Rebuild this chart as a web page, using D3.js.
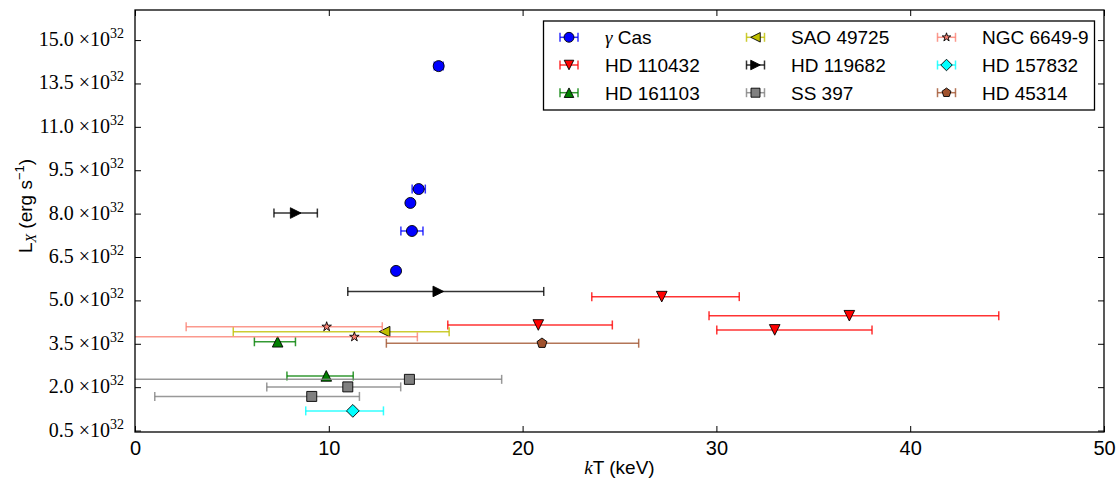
<!DOCTYPE html>
<html>
<head>
<meta charset="utf-8">
<script src="https://cdn.jsdelivr.net/npm/d3@7"></script>
<style>
  html, body { margin: 0; padding: 0; background: #fff; }
  svg { display: block; }
</style>
</head>
<body>
<svg id="chart" width="1117" height="481"></svg>
<script>
// ---------- data ----------
const xTicks = [0, 10, 20, 30, 40, 50];
const yTickValues = [0.5, 2.0, 3.5, 5.0, 6.5, 8.0, 9.5, 11.0, 12.5, 14.0];
const yTickLabels = ["0.5", "2.0", "3.5", "5.0", "6.5", "8.0", "9.5", "11.0", "13.5", "15.0"];

const seriesNames = ["γ Cas", "HD 110432", "HD 161103", "SAO 49725", "HD 119682", "SS 397", "NGC 6649-9", "HD 157832", "HD 45314"];

const gammaCasKT = [15.67, 14.64, 14.21, 14.29, 13.47];
const gammaCasL = [13.10, 8.85, 8.37, 7.40, 6.02];
const gammaCasErrLo = [0.23, 0.34, 0.12, 0.57, 0.12];
const gammaCasErrHi = [0.23, 0.34, 0.12, 0.57, 0.12];

const hd110432KT = [27.18, 36.86, 33.01, 20.81];
const hd110432L = [5.13, 4.47, 3.98, 4.15];
const hd110432ErrLo = [3.61, 7.24, 2.99, 4.67];
const hd110432ErrHi = [4.00, 7.71, 5.02, 3.82];

const hd161103KT = [7.36, 9.87];
const hd161103L = [3.57, 2.39];
const hd161103ErrLo = [1.20, 2.03];
const hd161103ErrHi = [0.92, 1.39];

const sao49725KT = [12.88];
const sao49725L = [3.92];
const sao49725ErrLo = [7.81];
const sao49725ErrHi = [3.33];

const hd119682KT = [8.29, 15.65];
const hd119682L = [8.02, 5.31];
const hd119682ErrLo = [1.12, 4.67];
const hd119682ErrHi = [1.12, 5.44];

const ss397KT = [14.16, 10.98, 9.12];
const ss397L = [2.27, 2.01, 1.68];
const ss397ErrLo = [14.5, 4.18, 8.10];
const ss397ErrHi = [4.76, 2.73, 2.46];

const ngc6649KT = [9.89, 11.32];
const ngc6649L = [4.09, 3.74];
const ngc6649ErrLo = [7.25, 12.5];
const ngc6649ErrHi = [2.87, 3.25];

const hd157832KT = [11.24];
const hd157832L = [1.18];
const hd157832ErrLo = [2.43];
const hd157832ErrHi = [1.58];

const hd45314KT = [21.00];
const hd45314L = [3.52];
const hd45314ErrLo = [8.03];
const hd45314ErrHi = [4.99];

// ---------- styling ----------
const seriesColors = ["#0000ff", "#ff0000", "#008000", "#bfbf00", "#000000", "#808080", "#fa8072", "#00ffff", "#a0522d"];
const seriesMarkers = ["circle", "triDown", "triUp", "triLeft", "triRight", "square", "star", "diamond", "pentagon"];

const series = [
  [gammaCasKT, gammaCasL, gammaCasErrLo, gammaCasErrHi],
  [hd110432KT, hd110432L, hd110432ErrLo, hd110432ErrHi],
  [hd161103KT, hd161103L, hd161103ErrLo, hd161103ErrHi],
  [sao49725KT, sao49725L, sao49725ErrLo, sao49725ErrHi],
  [hd119682KT, hd119682L, hd119682ErrLo, hd119682ErrHi],
  [ss397KT, ss397L, ss397ErrLo, ss397ErrHi],
  [ngc6649KT, ngc6649L, ngc6649ErrLo, ngc6649ErrHi],
  [hd157832KT, hd157832L, hd157832ErrLo, hd157832ErrHi],
  [hd45314KT, hd45314L, hd45314ErrLo, hd45314ErrHi]
].map((s, i) => ({
  name: seriesNames[i], color: seriesColors[i], marker: seriesMarkers[i],
  points: s[0].map((v, j) => ({ kT: v, L: s[1][j], lo: s[2][j], hi: s[3][j] }))
}));

// ---------- layout ----------
const plotLeft = 135, plotRight = 1104, plotTop = 10, plotBottom = 432;
const svg = d3.select("#chart");
const x = d3.scaleLinear().domain([0, 50]).range([plotLeft, plotRight]);
const y = d3.scaleLinear().domain([0.45, 15.04]).range([plotBottom, plotTop]);

const sans = "'Liberation Sans', Arial, sans-serif";
const serif = "'Liberation Serif', 'Times New Roman', serif";

svg.append("defs").append("clipPath").attr("id", "plotclip")
  .append("rect").attr("x", plotLeft).attr("y", plotTop).attr("width", plotRight - plotLeft).attr("height", plotBottom - plotTop);

// marker path generator
function markerPath(type, s) {
  const k = s || 1;
  const h = 5.3 * k;
  switch (type) {
    case "circle": return d3.symbol(d3.symbolCircle, Math.PI * Math.pow(5.5 * k, 2))();
    case "square": { const a = 5 * k; return `M${-a},${-a}L${a},${-a}L${a},${a}L${-a},${a}Z`; }
    case "diamond": { const a = 6.4 * k; return `M0,${-a}L${a},0L0,${a}L${-a},0Z`; }
    case "triUp": return `M0,${-h}L${h},${h}L${-h},${h}Z`;
    case "triDown": return `M0,${h}L${h},${-h}L${-h},${-h}Z`;
    case "triLeft": return `M${-h},0L${h},${-h}L${h},${h}Z`;
    case "triRight": return `M${h},0L${-h},${-h}L${-h},${h}Z`;
    case "star": {
      const R = 5 * k, r = R * 0.382; let p = "";
      for (let i = 0; i < 10; i++) {
        const rad = i % 2 === 0 ? R : r;
        const ang = -Math.PI / 2 + i * Math.PI / 5;
        p += (i === 0 ? "M" : "L") + (rad * Math.cos(ang)).toFixed(2) + "," + (rad * Math.sin(ang)).toFixed(2);
      }
      return p + "Z";
    }
    case "pentagon": {
      const R = 5.2 * k; let p = "";
      for (let i = 0; i < 5; i++) {
        const ang = -Math.PI / 2 + i * 2 * Math.PI / 5;
        p += (i === 0 ? "M" : "L") + (R * Math.cos(ang)).toFixed(2) + "," + (R * Math.sin(ang)).toFixed(2);
      }
      return p + "Z";
    }
  }
}

// ---------- data layer ----------
const plot = svg.append("g").attr("clip-path", "url(#plotclip)");
const capH = 4.5;
series.forEach(s => {
  const g = plot.append("g");
  s.points.forEach(p => {
    const yy = y(p.L), x0 = x(p.kT - p.lo), x1 = x(p.kT + p.hi);
    const eb = g.append("g").attr("stroke", s.color).attr("stroke-width", 1.5).attr("stroke-opacity", 0.8).attr("fill", "none");
    eb.append("line").attr("x1", x0).attr("x2", x1).attr("y1", yy).attr("y2", yy);
    eb.append("line").attr("x1", x0).attr("x2", x0).attr("y1", yy - capH).attr("y2", yy + capH);
    eb.append("line").attr("x1", x1).attr("x2", x1).attr("y1", yy - capH).attr("y2", yy + capH);
  });
  g.selectAll("path.mk").data(s.points).join("path").attr("class", "mk")
    .attr("d", markerPath(s.marker))
    .attr("transform", d => `translate(${x(d.kT)},${y(d.L)})`)
    .attr("fill", s.color).attr("stroke", "#000").attr("stroke-width", 0.9);
});

// ---------- axes ----------
const axB = svg.append("g").attr("transform", `translate(0,${plotBottom})`)
  .call(d3.axisBottom(x).tickValues(xTicks).tickSizeInner(-6).tickSizeOuter(0).tickPadding(9).tickFormat(d3.format("d")));
const axT = svg.append("g").attr("transform", `translate(0,${plotTop})`)
  .call(d3.axisTop(x).tickValues(xTicks).tickSizeInner(-6).tickSizeOuter(0).tickFormat(""));
const axL = svg.append("g").attr("transform", `translate(${plotLeft},0)`)
  .call(d3.axisLeft(y).tickValues(yTickValues).tickSizeInner(-6).tickSizeOuter(0).tickFormat(""));
const axR = svg.append("g").attr("transform", `translate(${plotRight},0)`)
  .call(d3.axisRight(y).tickValues(yTickValues).tickSizeInner(-6).tickSizeOuter(0).tickFormat(""));
[axB, axT, axL, axR].forEach(a => {
  a.select(".domain").remove();
  a.selectAll(".tick line").attr("stroke", "#000").attr("stroke-width", 1);
});
axB.selectAll(".tick text").attr("font-family", sans).attr("font-size", 20).attr("fill", "#000");

// y tick labels with ×10^32
axL.selectAll(".tick").each(function (d) {
  const t = d3.select(this).append("text")
    .attr("x", -11).attr("y", 5.5).attr("text-anchor", "end")
    .attr("font-family", serif).attr("font-size", 20).attr("fill", "#000");
  t.append("tspan").text(yTickLabels[yTickValues.indexOf(d)] + " ×10");
  t.append("tspan").attr("font-size", 14).attr("dy", -8).text("32");
});

// frame
svg.append("rect").attr("x", plotLeft).attr("y", plotTop).attr("width", plotRight - plotLeft).attr("height", plotBottom - plotTop)
  .attr("fill", "none").attr("stroke", "#000").attr("stroke-width", 1.3);

// axis titles
const xl = svg.append("text").attr("x", (plotLeft + plotRight) / 2).attr("y", 474).attr("text-anchor", "middle")
  .attr("font-family", sans).attr("font-size", 19).attr("fill", "#000");
xl.append("tspan").attr("font-family", serif).attr("font-style", "italic").text("k");
xl.append("tspan").text("T (keV)");

const yl = svg.append("text").attr("transform", "translate(31.5,206) rotate(-90)").attr("text-anchor", "middle")
  .attr("font-family", sans).attr("font-size", 19).attr("fill", "#000");
yl.append("tspan").text("L");
yl.append("tspan").attr("font-family", serif).attr("font-style", "italic").attr("font-size", 14).attr("dy", 4).text("X");
yl.append("tspan").attr("dy", -4).text(" (erg s");
yl.append("tspan").attr("font-size", 13).attr("dy", -8).text("−1");
yl.append("tspan").attr("dy", 8).text(")");

// ---------- legend ----------
const leg = svg.append("g");
leg.append("rect").attr("x", 543.5).attr("y", 21).attr("width", 551).attr("height", 89)
  .attr("fill", "#fff").attr("stroke", "#000").attr("stroke-width", 1.3);
const colMarkerX = [569, 755.5, 946.5];
const colTextX = [605, 791, 982];
const rowY = [37.3, 65, 92.7];
series.forEach((s, i) => {
  const c = Math.floor(i / 3), r = i % 3;
  const mx = colMarkerX[c], my = rowY[r];
  const g = leg.append("g");
  const eb = g.append("g").attr("stroke", s.color).attr("stroke-width", 1.5).attr("stroke-opacity", 0.8);
  eb.append("line").attr("x1", mx - 9).attr("x2", mx + 9).attr("y1", my).attr("y2", my);
  eb.append("line").attr("x1", mx - 9).attr("x2", mx - 9).attr("y1", my - capH).attr("y2", my + capH);
  eb.append("line").attr("x1", mx + 9).attr("x2", mx + 9).attr("y1", my - capH).attr("y2", my + capH);
  g.append("path").attr("d", markerPath(s.marker, 0.9)).attr("transform", `translate(${mx},${my})`)
    .attr("fill", s.color).attr("stroke", "#000").attr("stroke-width", 0.9);
  const t = g.append("text").attr("x", colTextX[c]).attr("y", my + 7)
    .attr("font-family", sans).attr("font-size", 19).attr("fill", "#000");
  if (s.name.startsWith("γ")) {
    t.append("tspan").attr("font-family", serif).attr("font-style", "italic").text("γ");
    t.append("tspan").text(s.name.slice(1));
  } else {
    t.text(s.name);
  }
});
</script>
</body>
</html>
